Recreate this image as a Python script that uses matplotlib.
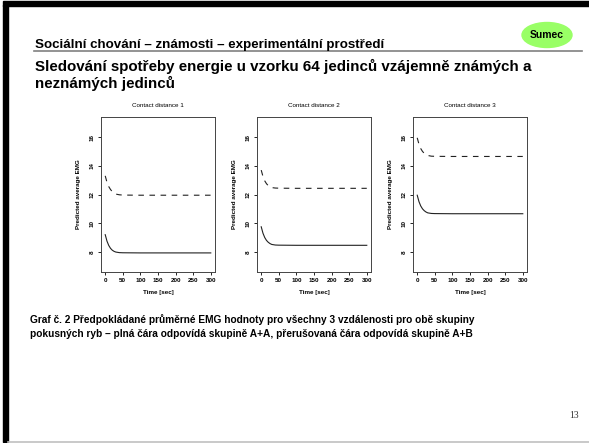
import matplotlib
matplotlib.use('Agg')
import matplotlib.pyplot as plt
from matplotlib.patches import Ellipse, Rectangle
from matplotlib.lines import Line2D

plt.rcParams['font.family'] = ['Liberation Sans', 'DejaVu Sans']

W, H = 589, 443

# Time points (sec) and predicted average EMG
time_sec = [0, 5, 10, 15, 20, 25, 30, 40, 50, 100, 150, 200, 250, 300]

solid_1 = [9.2, 8.75, 8.45, 8.25, 8.12, 8.04, 7.99, 7.95, 7.94, 7.93, 7.93, 7.93, 7.93, 7.93]
dashed_1 = [13.3, 12.85, 12.55, 12.35, 12.2, 12.1, 12.03, 11.98, 11.96, 11.95, 11.95, 11.95, 11.95, 11.95]

solid_2 = [9.75, 9.3, 9.0, 8.8, 8.67, 8.58, 8.52, 8.48, 8.47, 8.46, 8.46, 8.46, 8.46, 8.46]
dashed_2 = [13.7, 13.25, 12.95, 12.75, 12.62, 12.53, 12.48, 12.45, 12.44, 12.43, 12.43, 12.43, 12.43, 12.43]

solid_3 = [11.95, 11.5, 11.2, 11.0, 10.87, 10.78, 10.72, 10.68, 10.67, 10.66, 10.66, 10.66, 10.66, 10.66]
dashed_3 = [15.95, 15.5, 15.2, 15.0, 14.87, 14.78, 14.72, 14.67, 14.66, 14.65, 14.65, 14.65, 14.65, 14.65]

panel_titles = ["Contact distance 1", "Contact distance 2", "Contact distance 3"]
x_ticks = [0, 50, 100, 150, 200, 250, 300]
y_ticks = [8, 10, 12, 14, 16]


def fx(x):
    return x / W


def fy(y):
    return 1 - y / H


fig = plt.figure(figsize=(W / 100, H / 100), dpi=100)

# slide frame
fig.patches.append(Rectangle((fx(3), fy(442)), fx(5), fy(5) - fy(442),
                             transform=fig.transFigure, color='black'))
fig.patches.append(Rectangle((fx(3), fy(5.5)), fx(586), fy(1.5) - fy(5.5),
                             transform=fig.transFigure, color='black'))
fig.lines.append(Line2D([fx(8), 1], [fy(441.5), fy(441.5)],
                        transform=fig.transFigure, color='#c0c0c0', lw=1.2))

# header
fig.text(fx(35), fy(48), "Sociální chování – známosti – experimentální prostředí",
         fontsize=9.6, fontweight='bold', va='baseline')
fig.lines.append(Line2D([fx(34), fx(582)], [fy(51), fy(51)],
                        transform=fig.transFigure, color='#808080', lw=1.2))
fig.patches.append(Ellipse((fx(547), fy(35)), fx(50), fy(0) - fy(25),
                           transform=fig.transFigure, color='#99ff66'))
fig.text(fx(547), fy(35), "Sumec", fontsize=7.5, fontweight='bold',
         ha='center', va='center')

fig.text(fx(35), fy(71), "Sledování spotřeby energie u vzorku 64 jedinců vzájemně známých a",
         fontsize=10.9, fontweight='bold', va='baseline')
fig.text(fx(35), fy(88), "neznámých jedinců",
         fontsize=10.9, fontweight='bold', va='baseline')

panels = [(solid_1, dashed_1), (solid_2, dashed_2), (solid_3, dashed_3)]
lefts = [101, 257, 413]

for i, (solid, dashed) in enumerate(panels):
    ax = fig.add_axes([fx(lefts[i]), fy(272), fx(114), fy(117) - fy(272)])
    ax.plot(time_sec, solid, color='#222222', lw=0.8)
    ax.plot(time_sec, dashed, color='#222222', lw=0.8, linestyle=(0, (5, 5)))
    ax.set_xlim(-12, 312)
    ax.set_ylim(6.6, 17.4)
    ax.set_xticks(x_ticks)
    ax.set_yticks(y_ticks)
    ax.tick_params(labelsize=4.5, length=2.5, width=0.6, pad=2)
    ax.tick_params(axis='y', labelrotation=90)
    for lab in ax.get_xticklabels() + ax.get_yticklabels():
        lab.set_fontweight('bold')
    for lab in ax.get_yticklabels():
        lab.set_va('center')
    for sp in ax.spines.values():
        sp.set_linewidth(0.7)
        sp.set_color('#444444')
    ax.set_title(panel_titles[i], fontsize=4.5, pad=7)
    ax.set_xlabel("Time [sec]", fontsize=4.5, fontweight='bold', labelpad=5)
    ax.set_ylabel("Predicted average EMG", fontsize=4.5, fontweight='bold', labelpad=6)

fig.text(fx(30), fy(323), "Graf č. 2 Předpokládané průměrné EMG hodnoty pro všechny 3 vzdálenosti pro obě skupiny",
         fontsize=7.3, fontweight='bold', va='baseline')
fig.text(fx(30), fy(337), "pokusných ryb – plná čára odpovídá skupině A+A, přerušovaná čára odpovídá skupině A+B",
         fontsize=7.3, fontweight='bold', va='baseline')

fig.text(fx(574), fy(416), "13", fontsize=7, family=['Liberation Serif', 'DejaVu Serif'],
         ha='center', va='center', color='#333333')

fig.savefig("out.png", dpi=100)
